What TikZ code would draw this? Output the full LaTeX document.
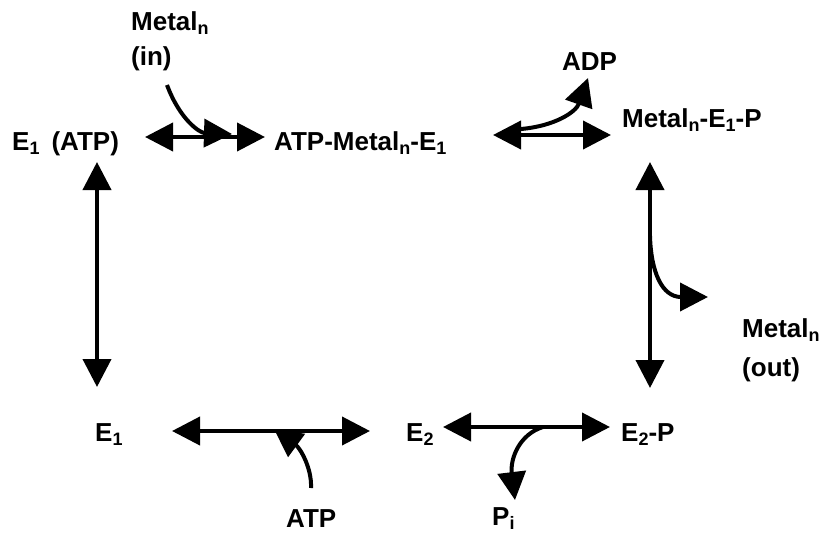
\documentclass[tikz,border=0pt]{standalone}
\usepackage{fontspec}
\setmainfont{Liberation Sans}
\usetikzlibrary{arrows.meta}
\newcommand{\sbs}[1]{\raisebox{-4pt}{\fontsize{18}{18}\selectfont #1}}
\begin{document}
\begin{tikzpicture}[x=1pt,y=-1pt,
  lbl/.style={anchor=base west,inner sep=0pt,font=\fontsize{26}{30}\selectfont\bfseries},
  rx/.style={line width=4pt,{Triangle[length=28pt,width=28pt]}-{Triangle[length=28pt,width=28pt]}},
  side/.style={line width=4pt,-{Triangle[length=28pt,width=28pt]}}]
\useasboundingbox (0,0) rectangle (820,535);
% labels
\node[lbl] (metin) at (131,31) {Metal\sbs{n}};
\node[lbl] (in) at (131,66) {(in)};
\node[lbl] (e1atp) at (12,150) {E\sbs{1}\hspace{12pt}(ATP)};
\node[lbl] (atpme) at (274,150) {ATP-Metal\sbs{n}-E\sbs{1}};
\node[lbl] (adp) at (562,71) {ADP};
\node[lbl] (mep) at (622,128) {Metal\sbs{n}-E\sbs{1}-P};
\node[lbl] (metout) at (742,337) {Metal\sbs{n}};
\node[lbl] (out) at (742,376) {(out)};
\node[lbl] (e1) at (95,441) {E\sbs{1}};
\node[lbl] (e2) at (406,441) {E\sbs{2}};
\node[lbl] (e2p) at (621,441) {E\sbs{2}-P};
\node[lbl] (atp) at (286,527) {ATP};
\node[lbl] (pi) at (492,525) {P\sbs{i}};
% connector ends
\coordinate (a1l) at (145,137); \coordinate (a1r) at (265,137);
\coordinate (a2l) at (493,135); \coordinate (a2r) at (611,135);
\coordinate (vlt) at (97,162);  \coordinate (vlb) at (97,387);
\coordinate (vrt) at (650,162); \coordinate (vrb) at (650,388);
\coordinate (b1l) at (172,431); \coordinate (b1r) at (370,431);
\coordinate (b2l) at (443,427); \coordinate (b2r) at (610,427);
% main reactions
\draw[rx] (a1l) -- (a1r);
\draw[rx] (a2l) -- (a2r);
\draw[rx] (vlt) -- (vlb);
\draw[rx] (vrt) -- (vrb);
\draw[rx] (b1l) -- (b1r);
\draw[rx] (b2l) -- (b2r);
% side branches
\coordinate (inS) at (167,85);   \coordinate (inT) at (232,134);
\draw[side] (inS) .. controls (180,120) and (200,133) .. (inT);
\coordinate (adpS) at (521,129); \coordinate (adpT) at (588,78);
\draw[side] (adpS) .. controls (555,126) and (576,112) .. (adpT);
\coordinate (outS) at (650,236); \coordinate (outT) at (708,297);
\draw[side] (outS) .. controls (651,272) and (662,297) .. (outT);
\coordinate (piS) at (543,427);  \coordinate (piT) at (515,500);
\draw[side] (piS) .. controls (520,434) and (510,458) .. (piT);
\coordinate (atpS) at (311,488); \coordinate (atpT) at (274,429);
\draw[side] (atpS) .. controls (312,468) and (300,448) .. (atpT);
\end{tikzpicture}
\end{document}
